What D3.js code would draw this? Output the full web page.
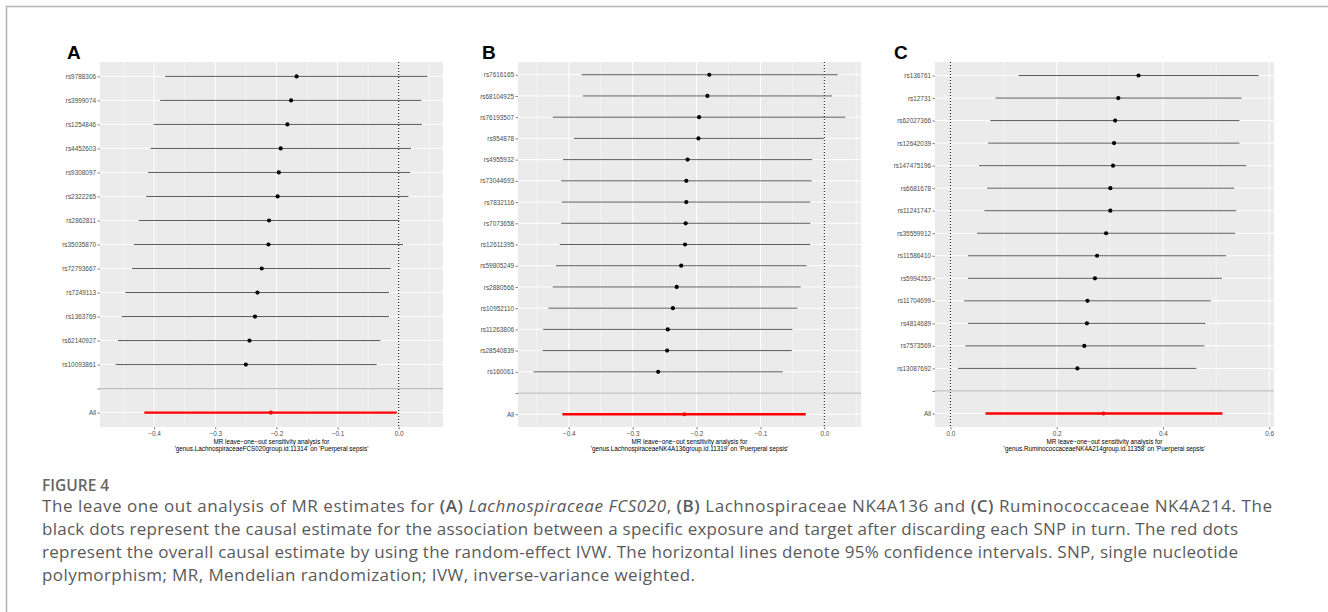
<!DOCTYPE html>
<html>
<head>
<meta charset="utf-8">
<script src="https://cdn.jsdelivr.net/npm/d3@7/dist/d3.min.js"></script>
<style>
  body { margin: 0; background: #fff; }
  svg { display: block; }
</style>
</head>
<body>
<svg id="fig" width="1328" height="612"></svg>
<script>
// panel A: genus Lachnospiraceae FCS020
const snpsA = ["rs9788306", "rs3999074", "rs1254846", "rs4452603", "rs9308097", "rs2322265", "rs2862811",
  "rs35035870", "rs72793667", "rs7249113", "rs1363769", "rs62140927", "rs10093861"];
const estA = [-0.167, -0.176, -0.182, -0.193, -0.196, -0.198, -0.212, -0.213, -0.224, -0.231, -0.235, -0.244, -0.250];
const loA = [-0.382, -0.390, -0.401, -0.406, -0.410, -0.413, -0.425, -0.433, -0.436, -0.447, -0.453, -0.459, -0.463];
const hiA = [0.047, 0.037, 0.038, 0.020, 0.019, 0.016, 0.001, 0.007, -0.013, -0.016, -0.016, -0.030, -0.036];
const allA = [-0.209, -0.416, -0.003];

// panel B: genus Lachnospiraceae NK4A136
const snpsB = ["rs7616165", "rs68104925", "rs76193507", "rs954878", "rs4955932", "rs73044693", "rs7832116",
  "rs7073658", "rs12611395", "rs59805249", "rs2880566", "rs10952110", "rs11263806", "rs28540839", "rs160061"];
const estB = [-0.180, -0.183, -0.196, -0.197, -0.214, -0.216, -0.216, -0.217, -0.218, -0.224, -0.231, -0.237, -0.245, -0.246, -0.260];
const loB = [-0.380, -0.378, -0.425, -0.392, -0.409, -0.412, -0.411, -0.412, -0.414, -0.420, -0.425, -0.432, -0.440, -0.441, -0.455];
const hiB = [0.021, 0.012, 0.033, -0.001, -0.019, -0.020, -0.022, -0.022, -0.022, -0.028, -0.037, -0.042, -0.050, -0.051, -0.065];
const allB = [-0.219, -0.410, -0.029];

// panel C: genus Ruminococcaceae NK4A214
const snpsC = ["rs136761", "rs12731", "rs62027366", "rs12642039", "rs147475196", "rs6681678", "rs11241747",
  "rs35559912", "rs11586410", "rs5994253", "rs11704699", "rs4814689", "rs7573569", "rs13087692"];
const estC = [0.354, 0.316, 0.310, 0.308, 0.306, 0.301, 0.301, 0.293, 0.276, 0.272, 0.258, 0.257, 0.252, 0.239];
const loC = [0.128, 0.085, 0.075, 0.071, 0.054, 0.069, 0.064, 0.050, 0.033, 0.033, 0.026, 0.033, 0.028, 0.014];
const hiC = [0.580, 0.548, 0.544, 0.544, 0.557, 0.534, 0.538, 0.536, 0.519, 0.511, 0.490, 0.480, 0.478, 0.463];
const allC = [0.288, 0.066, 0.512];

const titleLine1 = "MR leave\u2212one\u2212out sensitivity analysis for";
const exposures = [
  "'genus.LachnospiraceaeFCS020group.id.11314' on 'Puerperal sepsis'",
  "'genus.LachnospiraceaeNK4A136group.id.11319' on 'Puerperal sepsis'",
  "'genus.RuminococcaceaeNK4A214group.id.11358' on 'Puerperal sepsis'"
];

const panels = [
  { letter: "A", snps: snpsA, est: estA, lo: loA, hi: hiA, all: allA, step: 0.1, left: 100, right: 443, letterX: 67 },
  { letter: "B", snps: snpsB, est: estB, lo: loB, hi: hiB, all: allB, step: 0.1, left: 518, right: 861, letterX: 482 },
  { letter: "C", snps: snpsC, est: estC, lo: loC, hi: hiC, all: allC, step: 0.2, left: 935, right: 1274, letterX: 894 }
];

const svg = d3.select("#fig");
const panelTop = 62, panelBottom = 427;
const fmt = d3.format(".1f");

// frame round the figure
svg.append("path")
  .attr("d", "M6.5,612 V6.5 H1328")
  .attr("fill", "none")
  .attr("stroke", "#b3b3b3")
  .attr("stroke-width", 1.5);

panels.forEach((p, i) => {
  const rows = p.snps.map((s, j) => ({ snp: s, est: p.est[j], lo: p.lo[j], hi: p.hi[j] }));
  rows.push({ snp: "All", est: p.all[0], lo: p.all[1], hi: p.all[2] });

  // ggplot style range: data + xintercept 0, expanded 5%
  const ext = d3.extent([...p.lo, ...p.hi, p.all[1], p.all[2], 0]);
  const pad = (ext[1] - ext[0]) * 0.05;
  const x = d3.scaleLinear().domain([ext[0] - pad, ext[1] + pad]).range([p.left, p.right]);
  const y = d3.scalePoint().domain([...p.snps, "", "All"]).range([panelTop, panelBottom]).padding(0.6);

  const d0 = x.domain()[0], d1 = x.domain()[1];
  const major = d3.range(Math.ceil(d0 / p.step - 1e-9), Math.floor(d1 / p.step + 1e-9) + 1).map(k => +(k * p.step).toFixed(3));
  const minor = d3.range(Math.ceil(d0 / p.step - 0.5), Math.floor(d1 / p.step - 0.5) + 1).map(k => (k + 0.5) * p.step);

  const g = svg.append("g");

  g.append("rect")
    .attr("x", p.left).attr("y", panelTop)
    .attr("width", p.right - p.left).attr("height", panelBottom - panelTop)
    .attr("fill", "#ebebeb");

  g.selectAll(".minor").data(minor).enter().append("line")
    .attr("x1", d => x(d)).attr("x2", d => x(d))
    .attr("y1", panelTop).attr("y2", panelBottom)
    .attr("stroke", "#fff").attr("stroke-width", 0.5);

  g.selectAll(".major").data(major).enter().append("line")
    .attr("x1", d => x(d)).attr("x2", d => x(d))
    .attr("y1", panelTop).attr("y2", panelBottom)
    .attr("stroke", "#fff").attr("stroke-width", 1);

  g.selectAll(".hgrid").data(y.domain()).enter().append("line")
    .attr("x1", p.left).attr("x2", p.right)
    .attr("y1", d => y(d)).attr("y2", d => y(d))
    .attr("stroke", "#fff").attr("stroke-width", 1);

  // separator above the overall estimate
  g.append("line")
    .attr("x1", p.left).attr("x2", p.right)
    .attr("y1", y("")).attr("y2", y(""))
    .attr("stroke", "#bebebe").attr("stroke-width", 1.3);

  // null line
  g.append("line")
    .attr("x1", x(0)).attr("x2", x(0))
    .attr("y1", panelTop).attr("y2", panelBottom)
    .attr("stroke", "#000").attr("stroke-width", 1)
    .attr("stroke-dasharray", "1,2");

  g.selectAll(".ci").data(rows).enter().append("line")
    .attr("x1", d => x(d.lo)).attr("x2", d => x(d.hi))
    .attr("y1", d => y(d.snp)).attr("y2", d => y(d.snp))
    .attr("stroke", d => d.snp === "All" ? "#ff0000" : "#4a4a4a")
    .attr("stroke-width", d => d.snp === "All" ? 2.4 : 0.9);

  g.selectAll(".pt").data(rows).enter().append("circle")
    .attr("cx", d => x(d.est)).attr("cy", d => y(d.snp))
    .attr("r", 2.1)
    .attr("fill", d => d.snp === "All" ? "#ff0000" : "#000");

  // axes
  const xAxis = d3.axisBottom(x).tickValues(major).tickFormat(fmt).tickSize(2.5).tickPadding(1.5);
  const ax = g.append("g").attr("transform", `translate(0,${panelBottom})`).call(xAxis);
  const yAxis = d3.axisLeft(y).tickSize(2.5).tickPadding(1.5);
  const ay = g.append("g").attr("transform", `translate(${p.left},0)`).call(yAxis);
  [ax, ay].forEach(a => {
    a.select(".domain").remove();
    a.selectAll(".tick line").attr("stroke", "#333").attr("stroke-width", 0.6);
    a.selectAll(".tick text")
      .attr("fill", "#4d4d4d")
      .style("font-family", "'Liberation Sans', Arial, sans-serif")
      .style("font-size", "6.4px");
  });

  const tx = (p.left + p.right) / 2;
  g.append("text").attr("x", tx).attr("y", 443.5)
    .attr("text-anchor", "middle")
    .style("font-family", "'Liberation Sans', Arial, sans-serif").style("font-size", "6.3px")
    .text(titleLine1);
  g.append("text").attr("x", tx).attr("y", 451)
    .attr("text-anchor", "middle")
    .style("font-family", "'Liberation Sans', Arial, sans-serif").style("font-size", "6.3px")
    .text(exposures[i]);

  g.append("text").attr("x", p.letterX).attr("y", 59)
    .style("font-family", "'Liberation Sans', Arial, sans-serif")
    .style("font-size", "19px").style("font-weight", "bold")
    .text(p.letter);
});

// caption
const capFont = "'Open Sans', 'Noto Sans', sans-serif";
const capX = 42;
svg.append("text").attr("x", capX).attr("y", 490.5)
  .attr("fill", "#666")
  .style("font-family", capFont).style("font-size", "15.5px").style("font-weight", 600)
  .text("FIGURE 4");

const captionLines = [
  [["The leave one out analysis of MR estimates for ", ""], ["(A)", "b"], [" ", ""], ["Lachnospiraceae FCS020", "i"],
   [", ", ""], ["(B)", "b"], [" Lachnospiraceae NK4A136 and ", ""], ["(C)", "b"], [" Ruminococcaceae NK4A214. The", ""]],
  [["black dots represent the causal estimate for the association between a specific exposure and target after discarding each SNP in turn. The red dots", ""]],
  [["represent the overall causal estimate by using the random-effect IVW. The horizontal lines denote 95% confidence intervals. SNP, single nucleotide", ""]],
  [["polymorphism; MR, Mendelian randomization; IVW, inverse-variance weighted.", ""]]
];
const captionWidths = [1230, 1196, 1196, 653];
captionLines.forEach((parts, k) => {
  const t = svg.append("text").attr("x", capX).attr("y", 512 + k * 23)
    .attr("fill", "#5a5a5a")
    .attr("textLength", captionWidths[k])
    .attr("lengthAdjust", "spacing")
    .style("font-family", capFont).style("font-size", "17px");
  parts.forEach(([s, st]) => {
    t.append("tspan")
      .style("font-weight", st === "b" ? 600 : 400)
      .style("font-style", st === "i" ? "italic" : "normal")
      .text(s);
  });
});
</script>
</body>
</html>
